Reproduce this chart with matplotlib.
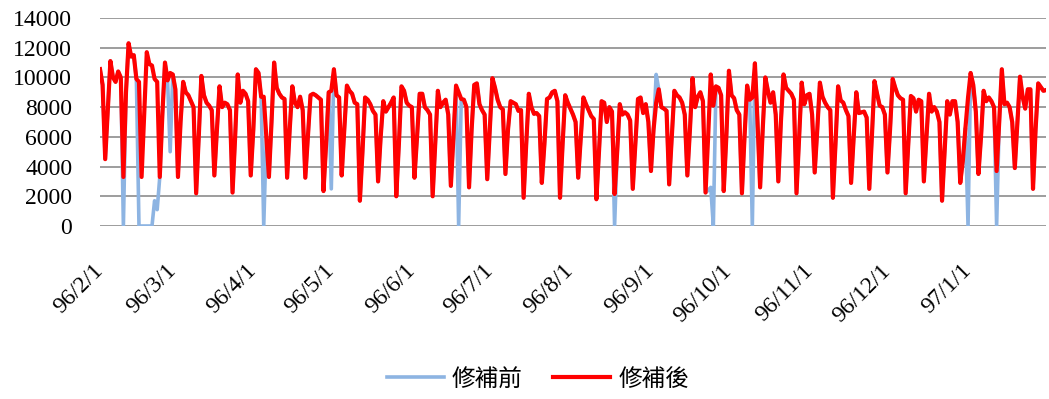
# Daily series before / after repair, 96/2/1 - 97/1/31 (ROC calendar)

import numpy as np
import matplotlib
matplotlib.use("Agg")
import matplotlib.pyplot as plt
import pandas as pd

start_date = "2007-02-01"

# Repaired series, one row per week (first row starts on Thursday 2/1)
after_rows = [
    [10560, 9500, 4500, 7800],
    [11100, 10000, 9700, 10400, 10000, 3300, 9000],
    [12300, 11400, 11500, 9900, 9700, 3300, 7500],
    [11700, 10900, 10800, 9900, 9700, 3300, 7500],
    [11000, 9800, 10300, 10200, 9200, 3300, 7000],
    [9700, 9000, 8800, 8400, 8000, 2200, 6000],
    [10100, 8800, 8300, 8100, 7800, 3400, 6500],
    [9400, 8000, 8300, 8200, 7800, 2250, 6000],
    [10200, 8300, 9100, 8900, 8400, 3400, 6500],
    [10550, 10300, 8700, 8700, 6000, 3300, 7000],
    [11000, 9300, 8900, 8650, 8550, 3250, 6500],
    [9400, 8300, 8000, 8700, 7800, 3250, 6000],
    [8800, 8900, 8800, 8650, 8500, 2350, 5500],
    [9000, 9100, 10550, 8800, 8650, 3400, 6500],
    [9450, 9100, 8900, 8300, 8200, 1700, 5000],
    [8650, 8500, 8200, 7750, 7500, 3000, 6000],
    [8400, 7700, 8000, 8300, 8650, 2000, 5500],
    [9400, 9100, 8300, 8100, 8000, 3250, 6000],
    [8900, 8900, 8000, 7800, 7500, 2000, 5500],
    [9100, 8000, 8300, 8500, 7500, 2700, 6000],
    [9450, 9000, 8550, 8500, 8000, 2600, 6500],
    [9500, 9600, 8200, 7800, 7500, 3150, 6500],
    [9950, 9300, 8500, 8000, 7850, 3500, 6500],
    [8400, 8300, 8200, 7750, 7800, 1900, 5500],
    [8900, 8000, 7550, 7600, 7400, 2900, 5500],
    [8550, 8650, 9000, 9100, 8400, 1900, 5500],
    [8800, 8300, 7900, 7500, 7000, 3250, 6000],
    [8650, 8200, 7800, 7400, 7200, 1800, 5000],
    [8400, 8300, 7000, 8000, 7700, 2150, 5000],
    [8200, 7500, 7650, 7500, 7100, 2500, 5500],
    [8550, 8650, 7600, 8200, 7000, 3700, 6500],
    [8300, 9200, 8000, 7900, 7750, 2800, 6000],
    [9100, 8800, 8650, 8300, 7500, 3400, 6500],
    [9950, 8000, 8700, 9000, 8400, 2250, 6000],
    [10200, 8100, 9400, 9300, 8800, 2350, 6000],
    [10450, 8800, 8600, 7800, 7500, 2200, 6000],
    [9450, 8500, 8650, 10950, 7000, 2600, 6500],
    [10000, 9100, 8300, 9000, 7500, 3000, 7000],
    [10200, 9300, 9100, 8900, 8500, 2200, 6000],
    [9650, 8200, 8800, 8900, 7500, 3600, 6500],
    [9650, 8700, 8300, 8000, 7800, 1900, 5500],
    [9400, 8450, 8300, 7800, 7400, 2900, 6000],
    [9000, 7600, 7650, 7700, 7300, 2500, 6000],
    [9750, 8900, 8100, 8000, 7500, 3600, 6500],
    [9900, 9300, 8800, 8600, 8500, 2200, 5500],
    [8750, 8600, 7700, 8500, 8400, 3000, 6000],
    [8900, 7700, 8000, 7700, 7000, 1700, 5000],
    [8400, 7500, 8400, 8400, 7000, 2900, 4400],
    [6600, 8650, 10300, 9500, 7700, 3500, 6000],
    [9100, 8400, 8650, 8400, 8000, 3700, 7000],
    [10550, 8200, 8300, 8000, 7000, 3900, 7000],
    [10050, 8700, 7900, 9200, 9200, 2500, 6500],
    [9600, 9350, 9100, 9150],
]

# Days where the raw (before repair) series differs from the repaired one
before_diff = {
    "2007-02-10": 0,
    "2007-02-16": 0, "2007-02-17": 0, "2007-02-18": 0,
    "2007-02-19": 0, "2007-02-20": 0, "2007-02-21": 0,
    "2007-02-22": 1700, "2007-02-23": 1100,
    "2007-02-28": 5000,
    "2007-04-05": 0,
    "2007-05-01": 2500,
    "2007-06-19": 0,
    "2007-08-18": 0,
    "2007-09-03": 10200,
    "2007-09-23": 2400, "2007-09-24": 2600, "2007-09-25": 0,
    "2007-10-10": 0,
    "2008-01-01": 0,
    "2008-01-12": 0,
}

after = [v for row in after_rows for v in row]
dates = pd.date_range(start_date, periods=len(after), freq="D")
after = pd.Series(after, index=dates)
before = after.copy()
for d, v in before_diff.items():
    before[pd.Timestamp(d)] = v

plt.rcParams['font.family'] = ['Liberation Serif', 'DejaVu Serif']

fig = plt.figure(figsize=(10.49, 3.99), dpi=100)
ax = fig.add_axes([100 / 1049, 1 - 226 / 399, 946 / 1049, 208 / 399])

ax.plot(before.index, before.values, color='#8DB4E2', linewidth=2.6, label='修補前')
ax.plot(after.index, after.values, color='#FF0000', linewidth=3.0, label='修補後')

ax.set_ylim(0, 14000)
ax.set_yticks(np.arange(0, 14001, 2000))
ax.set_xlim(dates[0], dates[-1])
ax.grid(axis='y', color='#8C8C8C', linewidth=1.2)
ax.set_axisbelow(True)
for s in ax.spines.values():
    s.set_visible(False)

month_ticks = pd.date_range("2007-02-01", "2008-01-01", freq="MS")
ax.set_xticks(month_ticks)
ax.set_xticklabels([f"{d.year - 1911}/{d.month}/{d.day}" for d in month_ticks],
                   rotation=45, ha='right', va='center', rotation_mode='anchor')
ax.tick_params(axis='x', length=0, pad=30, labelsize=17)
ax.tick_params(axis='y', length=0, pad=20, labelsize=17)

handles, labels = ax.get_legend_handles_labels()
fig.legend(handles, labels, loc='center', bbox_to_anchor=(0.513, 0.05), ncol=2,
           frameon=False, handlelength=2.4, handletextpad=0.35, columnspacing=1.3,
           prop={'family': ['Noto Sans CJK TC', 'DejaVu Sans'], 'size': 17})

fig.savefig("out.png", dpi=100)
